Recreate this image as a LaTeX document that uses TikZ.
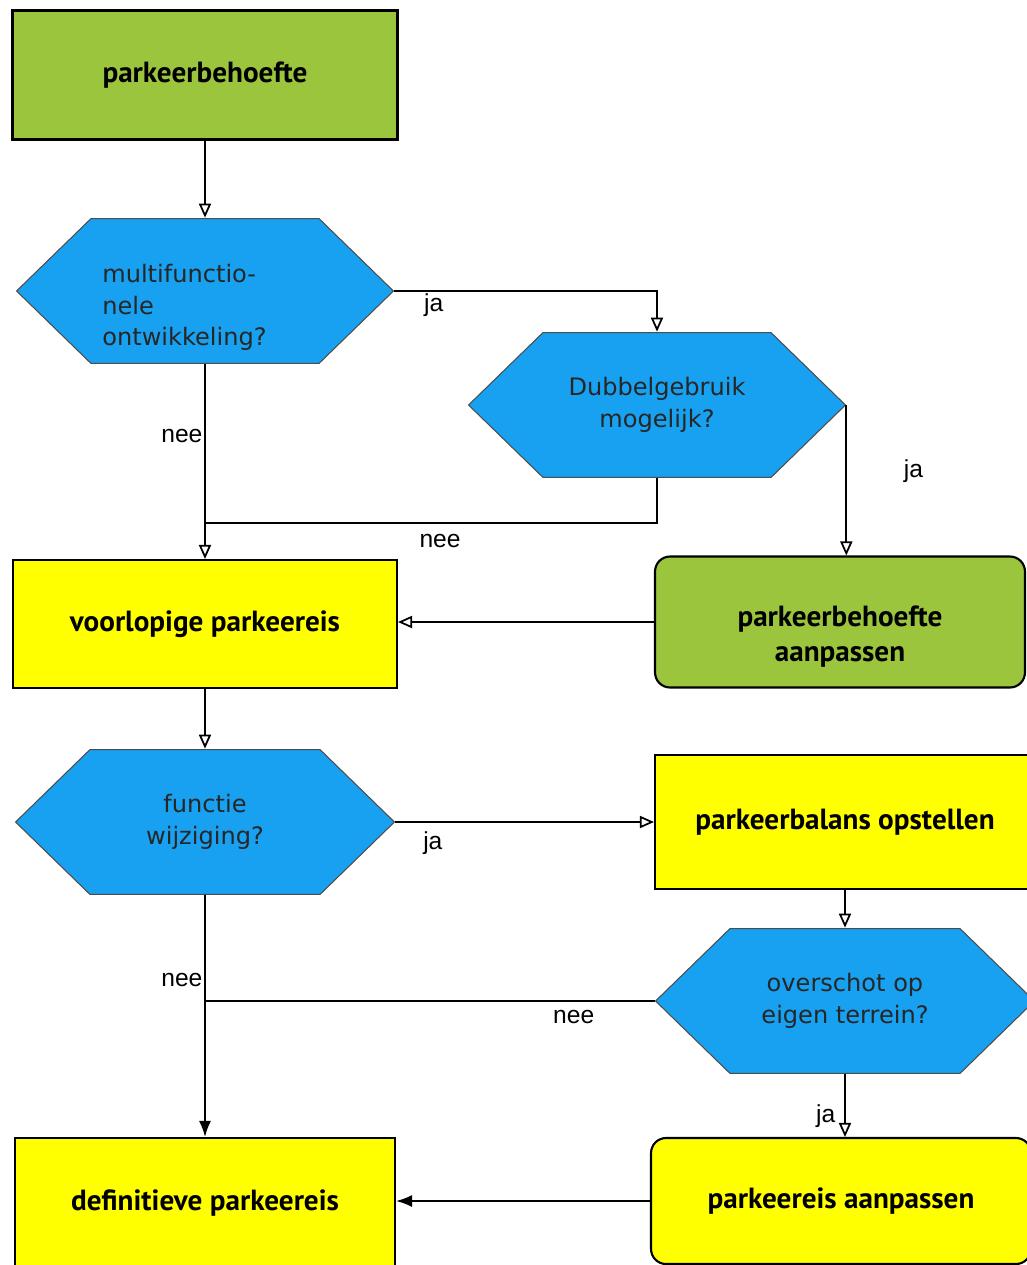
\documentclass[tikz,border=0pt]{standalone}
\usepackage{fontspec}
\setmainfont{DejaVu Sans}
\newfontfamily\boxfont{PT Sans}
\newfontfamily\labelfont{Liberation Sans}
\usetikzlibrary{arrows.meta}
\definecolor{groen}{RGB}{155,197,61}
\definecolor{blauw}{RGB}{24,161,240}
\definecolor{geel}{RGB}{255,255,0}
\newcommand{\omlaag}[2]{\raisebox{-#1}[\height][\depth]{#2}}
\tikzset{
  blok/.style={draw=black, line width=1.2pt, minimum width=7.7cm, minimum height=2.6cm,
    font=\boxfont\bfseries\fontsize{16.6}{20}\selectfont, align=center},
  vraag/.style={rectangle, minimum width=7.56cm, minimum height=2.92cm, inner sep=0pt,
    font=\fontsize{13.7}{18}\selectfont, text=black!85, align=center,
    path picture={
      \draw[fill=blauw, draw=black!70, line width=0.6pt]
        ([xshift=0.3pt]path picture bounding box.west)
        -- ([xshift=1.5cm,yshift=-0.3pt]path picture bounding box.north west)
        -- ([xshift=-1.5cm,yshift=-0.3pt]path picture bounding box.north east)
        -- ([xshift=-0.3pt]path picture bounding box.east)
        -- ([xshift=-1.5cm,yshift=0.3pt]path picture bounding box.south east)
        -- ([xshift=1.5cm,yshift=0.3pt]path picture bounding box.south west)
        -- cycle;}},
  pijl/.style={line width=1pt, -{Triangle[open,length=0.28cm,width=0.24cm]}},
  pijlzw/.style={line width=1pt, -{Latex[length=0.32cm,width=0.24cm]}},
  lijn/.style={line width=1pt},
  antw/.style={font=\labelfont\fontsize{14}{16}\selectfont, inner sep=1pt}
}
\begin{document}
\begin{tikzpicture}[x=0.02cm,y=-0.02cm]
        \useasboundingbox (0,0) rectangle (1027,1265);

        \node[blok,fill=groen,minimum height=2.58cm] (behoefte) at (205,75) {parkeerbehoefte};
        \node[vraag] (multi) at (205,291)
          {\omlaag{0.34cm}{\begin{tabular}{@{}l@{}}multifunctio-\\nele\\ontwikkeling?\end{tabular}}\hspace{0.82cm}};
        \node[vraag] (dubbel) at (657,405) {Dubbelgebruik\\mogelijk?};
        \node[blok,fill=geel,minimum width=7.68cm,minimum height=2.56cm] (voorlopig) at (205,624) {voorlopige parkeereis};
        \node[blok,fill=groen,rounded corners=0.3cm,minimum width=7.4cm,minimum height=2.62cm] (behoefteaanp) at (840,622)
          {\omlaag{0.3cm}{\begin{tabular}{@{}c@{}}parkeerbehoefte\\aanpassen\end{tabular}}};
        \node[vraag,minimum width=7.6cm] (functie) at (205,822) {functie\\wijziging?};
        \node[blok,fill=geel,minimum width=7.6cm,minimum height=2.68cm] (balans) at (845,822) {parkeerbalans opstellen};
        \node[vraag,minimum width=7.6cm] (overschot) at (845,1001) {overschot op\\eigen terrein?};
        \node[blok,fill=geel,minimum width=7.6cm,minimum height=2.6cm] (definitief) at (205,1203) {definitieve parkeereis};
        \node[blok,fill=geel,rounded corners=0.3cm,minimum width=7.6cm,minimum height=2.52cm] (eisaanp) at (841,1201) {parkeereis aanpassen};

        \coordinate (knik1) at (205,523);
        \coordinate (knik2) at (205,1001);

        \draw[pijl] (behoefte.south) -- (multi.north);
        \draw[pijl] (multi.east) -| node[antw,pos=0.075,below] {ja} (dubbel.north);
        \draw[pijl] (multi.south) -- node[antw,pos=0.37,left] {nee} (voorlopig.north);
        \draw[lijn] (dubbel.south) |- node[antw,pos=0.74,below=5pt] {nee} (knik1);
        \draw[pijl] (dubbel.east) -- node[antw,pos=0.44,right=1.1cm] {ja} (dubbel.east |- behoefteaanp.north);
        \draw[pijl] (behoefteaanp.west) -- (behoefteaanp.west -| voorlopig.east);
        \draw[pijl] (voorlopig.south) -- (functie.north);
        \draw[pijl] (functie.east) -- node[antw,pos=0.145,below=4pt] {ja} (balans.west);
        \draw[pijl] (balans.south) -- (overschot.north);
        \draw[lijn] (overschot.west) -- node[antw,pos=0.18,below=4pt] {nee} (knik2);
        \draw[pijlzw] (functie.south) -- node[antw,pos=0.35,left] {nee} (definitief.north);
        \draw[pijl] (overschot.south) -- node[antw,pos=0.67,left=4pt] {ja} (overschot.south |- eisaanp.north);
        \draw[pijlzw] (eisaanp.west) -- (eisaanp.west -| definitief.east);
      \end{tikzpicture}
\end{document}
